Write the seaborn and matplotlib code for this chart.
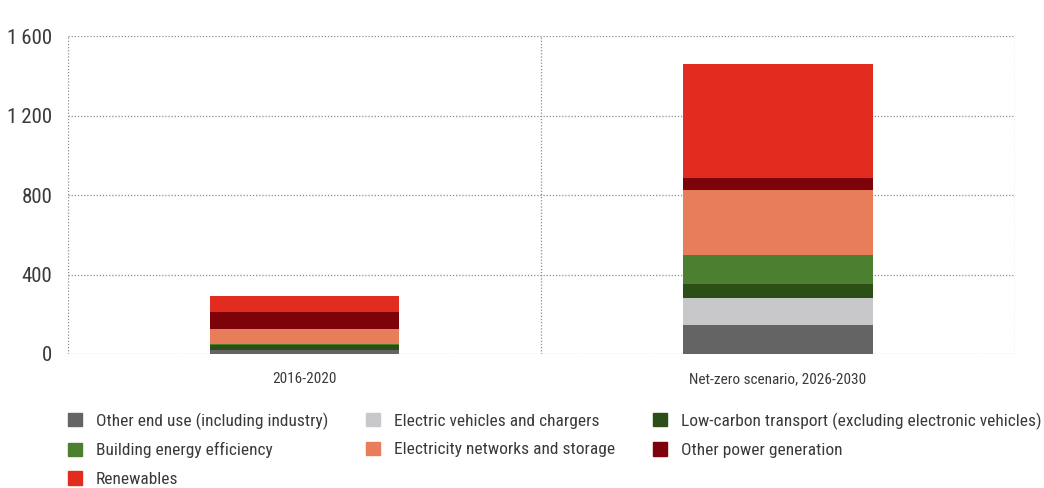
import matplotlib

matplotlib.use("Agg")
import matplotlib.pyplot as plt  # noqa: E402
import matplotlib.patches as mpatches  # noqa: E402
import pandas as pd  # noqa: E402
import seaborn as sns  # noqa: E402

# data (bottom to top of each stack)
periods = ["2016-2020", "Net-zero scenario, 2026-2030"]
series = [
    "Other end use (including industry)",
    "Electric vehicles and chargers",
    "Low-carbon transport (excluding electronic vehicles)",
    "Building energy efficiency",
    "Electricity networks and storage",
    "Other power generation",
    "Renewables",
]
other_end_use = [18, 148]
electric_vehicles = [2, 135]
low_carbon_transport = [24, 67]
building_efficiency = [5, 150]
networks_storage = [75, 327]
other_power = [86, 61]
renewables = [80, 573]

colors = ["#646464", "#c8c8ca", "#2c4f18", "#4c8030", "#e87d5c", "#7d020a", "#e32c20"]
yticks = [0, 400, 800, 1200, 1600]
ytick_labels = ["0", "400", "800", "1\u2009200", "1\u2009600"]

values = [other_end_use, electric_vehicles, low_carbon_transport, building_efficiency,
          networks_storage, other_power, renewables]
df = pd.DataFrame({name: v for name, v in zip(series, values)}, index=periods)
cum = df.cumsum(axis=1)

sns.set_theme(style="white")
plt.rcParams["font.family"] = ["Roboto Condensed", "DejaVu Sans"]

fig = plt.figure(figsize=(10.44, 4.88), dpi=100)
ax = fig.add_axes([0.065, 0.2746, 0.907, 0.6514])

# draw tallest cumulative first so lower segments sit on top
for name, color in reversed(list(zip(series, colors))):
    sns.barplot(x=periods, y=cum[name].values, color=color, width=0.4,
                saturation=1, linewidth=0, ax=ax, zorder=3)

ax.set_xlim(-0.5, 1.5)
ax.set_ylim(0, 1600)
ax.set_yticks(yticks)
ax.set_yticklabels(ytick_labels, fontsize=15, color="#3a3a3a")
ax.tick_params(axis="both", length=0)
ax.tick_params(axis="y", pad=11)
ax.tick_params(axis="x", pad=13)
for lbl in ax.get_xticklabels():
    lbl.set_fontsize(11)
    lbl.set_color("#3a3a3a")

grid_kw = dict(color="#8c8c8c", linestyle=(0, (1, 1.5)), linewidth=0.9, zorder=1)
for y in yticks:
    ax.axhline(y, **grid_kw)
for x in [-0.5, 0.5, 1.5]:
    ax.axvline(x, **grid_kw)
for s in ax.spines.values():
    s.set_visible(False)

# legend filled row-wise (matplotlib fills columns), reorder accordingly
order = [0, 3, 6, 1, 4, 2, 5]
handles = [mpatches.Patch(color=colors[i], label=series[i]) for i in order]
fig.legend(handles=handles, loc="upper left", bbox_to_anchor=(0.0651, 0.155),
           ncol=3, frameon=False, fontsize=12.5, handlelength=0.8, handleheight=0.8,
           handletextpad=0.8, columnspacing=2.2, labelspacing=0.74,
           borderpad=0, borderaxespad=0, labelcolor="#3a3a3a")

fig.savefig("out.png", dpi=100)
